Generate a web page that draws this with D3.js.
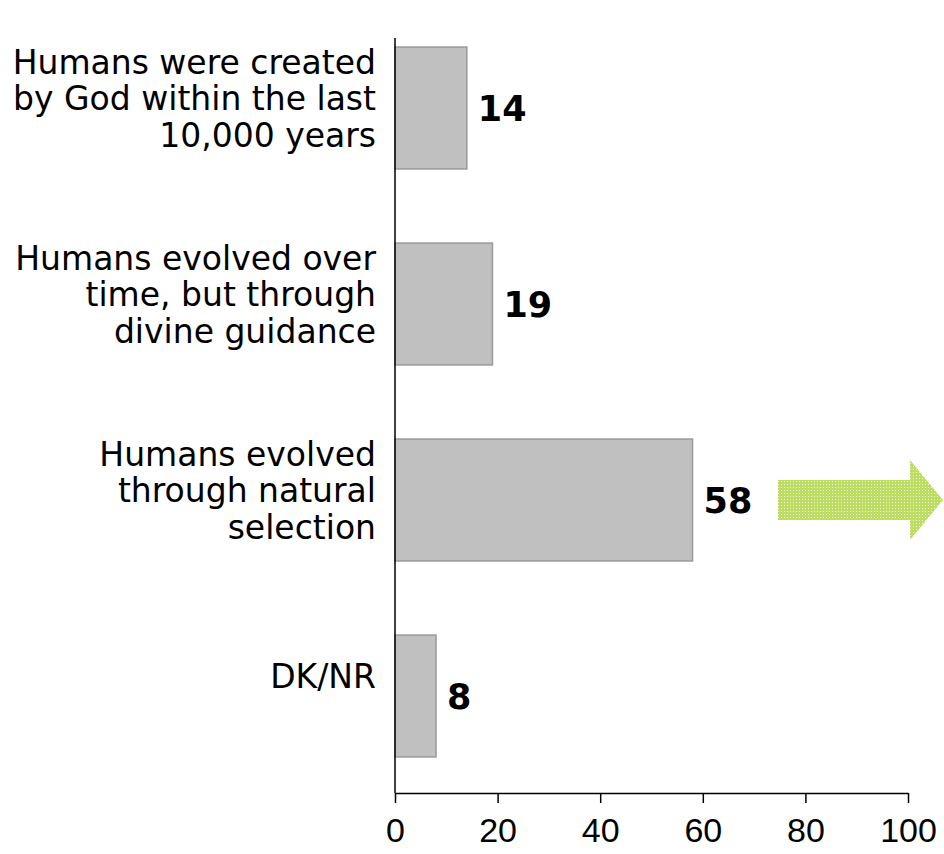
<!DOCTYPE html>
<html>
<head>
<meta charset="utf-8">
<script src="https://cdn.jsdelivr.net/npm/d3@7"></script>
<style>
  html, body { margin: 0; padding: 0; background: #fff; }
  svg { display: block; }
</style>
</head>
<body>
<svg id="chart" width="944" height="854"></svg>
<script>
// Survey answers on human origins (percent)
const categories = [
  ["Humans were created", "by God within the last", "10,000 years"],
  ["Humans evolved over", "time, but through", "divine guidance"],
  ["Humans evolved", "through natural", "selection"],
  ["DK/NR"]
];
const values = [14, 19, 58, 8];
const xTicks = [0, 20, 40, 60, 80, 100];
const highlightIndex = 2;

const svg = d3.select("#chart");

const x = d3.scaleLinear().domain([0, 100]).range([395, 908]);
const y = d3.scaleBand()
  .domain(d3.range(values.length))
  .range([10, 794])
  .paddingInner(0.378)
  .paddingOuter(0.189);

const labelFont = "'DejaVu Sans', sans-serif";

// checkered green fill for the arrow
const defs = svg.append("defs");
const pat = defs.append("pattern")
  .attr("id", "greenCheck")
  .attr("patternUnits", "userSpaceOnUse")
  .attr("width", 3).attr("height", 3);
pat.append("rect").attr("width", 3).attr("height", 3).attr("fill", "#bcdc62");
pat.append("rect").attr("x", 1).attr("y", 1).attr("width", 1).attr("height", 1).attr("fill", "#f2f9dc");

// bars
svg.append("g").selectAll("rect")
  .data(values)
  .join("rect")
  .attr("x", x(0))
  .attr("y", (d, i) => y(i))
  .attr("width", d => x(d) - x(0))
  .attr("height", y.bandwidth())
  .attr("fill", "#c0c0c0")
  .attr("stroke", "#9a9a9a")
  .attr("stroke-width", 1.5);

// value labels
svg.append("g").selectAll("text")
  .data(values)
  .join("text")
  .attr("x", d => x(d) + 11)
  .attr("y", (d, i) => y(i) + y.bandwidth() / 2 + 13)
  .attr("font-family", labelFont)
  .attr("font-weight", "bold")
  .attr("font-size", 35)
  .attr("fill", "#000")
  .text(d => d);

// category labels, right aligned next to the axis
const catG = svg.append("g");
categories.forEach((lines, i) => {
  const cy = y(i) + y.bandwidth() / 2;
  const lh = 36.5;
  const first = cy + 2 - (lines.length - 1) / 2 * lh - (lines.length === 1 ? 10 : 0);
  const t = catG.append("text")
    .attr("text-anchor", "end")
    .attr("font-family", labelFont)
    .attr("font-size", 33)
    .attr("fill", "#000");
  lines.forEach((s, k) => {
    t.append("tspan").attr("x", 376).attr("y", first + k * lh).text(s);
  });
});

// vertical category axis line
svg.append("line")
  .attr("x1", x(0)).attr("x2", x(0))
  .attr("y1", 38).attr("y2", 793)
  .attr("stroke", "#000").attr("stroke-width", 1.5);

// value axis
const xAxis = svg.append("g")
  .attr("transform", "translate(0,793)")
  .call(d3.axisBottom(x).tickValues(xTicks).tickSize(10).tickSizeOuter(0).tickPadding(15));
xAxis.select(".domain").attr("stroke", "#000").attr("stroke-width", 1.5);
xAxis.selectAll(".tick line").attr("stroke", "#000").attr("stroke-width", 1.5);
xAxis.selectAll(".tick text")
  .attr("font-family", "'Liberation Sans', Arial, sans-serif")
  .attr("font-size", 34)
  .attr("fill", "#000");

// arrow pointing out from the highlighted bar
const ac = y(highlightIndex) + y.bandwidth() / 2;
const ax0 = 778, axHead = 910, axTip = 943;
const arrow = d3.path();
arrow.moveTo(ax0, ac - 20);
arrow.lineTo(axHead, ac - 20);
arrow.lineTo(axHead, ac - 40);
arrow.lineTo(axTip, ac);
arrow.lineTo(axHead, ac + 40);
arrow.lineTo(axHead, ac + 20);
arrow.lineTo(ax0, ac + 20);
arrow.closePath();
svg.append("path").attr("d", arrow.toString()).attr("fill", "url(#greenCheck)");
</script>
</body>
</html>
